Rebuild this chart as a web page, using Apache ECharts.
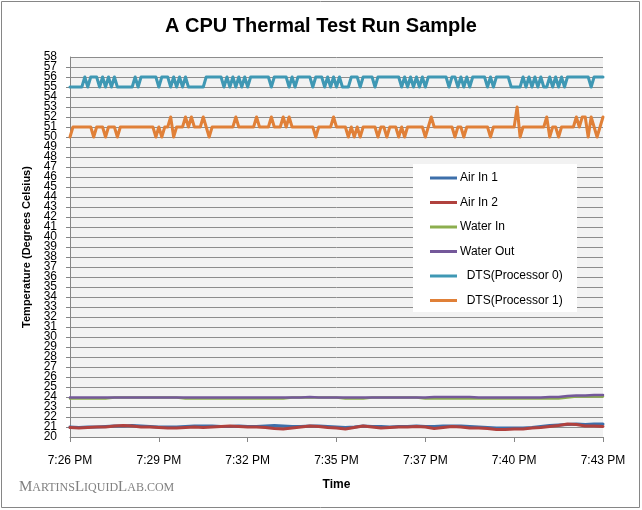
<!DOCTYPE html>
<html>
<head>
<meta charset="utf-8">
<script src="https://cdn.jsdelivr.net/npm/echarts@6/dist/echarts.min.js"></script>
<style>html,body{margin:0;padding:0;background:#fff}#c{width:642px;height:510px}</style>
</head>
<body>
<div id="c"></div>
<script>
const tickLabels = ['7:26 PM','7:29 PM','7:32 PM','7:35 PM','7:37 PM','7:40 PM','7:43 PM'];
const seriesNames = ['Air In 1','Air In 2','Water In','Water Out','  DTS(Processor 0)','  DTS(Processor 1)'];
const yMin = 20, yMax = 58;

const airIn1 = [21.0,20.95,21.0,21.0,21.05,21.1,21.1,21.15,21.1,21.05,21.0,21.0,21.0,21.05,21.1,21.1,21.1,21.05,21.05,21.1,21.05,21.05,21.1,21.15,21.1,21.05,21.05,21.1,21.1,21.05,21.0,20.95,21.0,21.1,21.05,21.05,21.0,21.05,21.05,21.1,21.05,21.05,21.1,21.1,21.1,21.05,21.0,20.95,20.9,20.9,20.9,20.9,20.95,21.05,21.15,21.2,21.25,21.3,21.25,21.3,21.3];
const airIn2 = [20.95,20.9,20.95,21.0,21.0,21.1,21.15,21.1,21.0,21.0,20.95,20.9,20.9,20.95,21.0,20.95,21.0,21.05,21.1,21.05,21.0,21.0,20.95,20.85,20.8,20.9,21.0,21.1,21.05,20.95,20.9,20.8,20.95,21.1,21.0,20.9,20.95,21.0,21.0,21.05,21.0,20.85,20.95,21.05,21.0,20.9,20.9,20.85,20.75,20.75,20.8,20.8,20.9,20.95,21.05,21.15,21.3,21.25,21.1,21.1,21.05];
const waterIn = [23.85,23.85,23.85,23.85,23.85,23.95,23.95,23.95,23.95,23.95,23.95,23.95,23.95,23.85,23.85,23.85,23.85,23.85,23.85,23.85,23.85,23.85,23.85,23.85,23.85,23.95,23.95,23.95,23.95,23.95,23.95,23.85,23.85,23.85,23.95,23.95,23.95,23.95,23.95,23.95,23.85,23.85,23.85,23.85,23.85,23.85,23.85,23.85,23.85,23.85,23.85,23.85,23.85,23.85,23.85,23.85,23.95,24.05,24.05,24.05,24.05];
const waterOut = [23.95,23.95,23.95,23.95,23.95,23.95,23.95,23.95,23.95,23.95,23.95,23.95,23.95,23.95,23.95,23.95,23.95,23.95,23.95,23.95,23.95,23.95,23.95,23.95,23.95,23.95,23.95,24.0,23.95,23.95,23.95,23.95,23.95,23.95,23.95,23.95,23.95,23.95,23.95,23.95,23.95,24.0,24.0,24.0,24.0,24.0,23.95,23.95,23.95,23.95,23.95,23.95,23.95,23.95,24.0,24.0,24.1,24.15,24.15,24.2,24.2];
const dts0 = [55,55,55,55,55,56,55,56,56,56,
55,56,55,56,55,56,55,55,55,55,
55,55,56,55,56,56,56,56,56,56,
55,56,56,56,55,56,55,56,55,56,
55,55,55,55,55,55,56,56,56,56,
56,56,55,56,55,56,55,56,55,56,
55,56,56,56,56,56,56,56,55,56,
56,56,56,56,55,56,55,56,56,56,
56,56,55,56,56,56,55,56,55,56,
55,56,55,55,55,56,56,56,55,56,
56,56,56,55,56,56,56,56,56,56,
56,56,55,56,55,56,55,56,55,56,
55,56,56,56,56,56,56,56,55,56,
56,55,56,55,56,55,56,56,56,56,
56,55,56,55,56,56,56,56,56,55,
55,55,55,56,55,56,55,56,55,56,
55,55,56,55,56,55,56,55,56,56,
56,56,56,56,56,56,55,56,56,56,
56];
const dts1 = [50,51,51,51,51,51,51,51,50,51,
51,51,50,51,51,51,50,51,51,51,
51,51,51,51,51,51,51,51,51,50,
51,50,51,51,52,50,51,51,51,52,
51,52,51,51,51,52,51,50,51,51,
51,51,51,51,51,51,52,51,51,51,
51,51,51,52,51,51,51,51,52,51,
51,51,52,51,52,51,51,51,51,51,
51,51,51,50,51,51,51,51,51,52,
51,51,51,51,50,51,50,51,50,51,
51,51,51,51,50,51,51,50,51,51,
51,50,51,50,51,51,51,51,51,51,
50,51,52,51,51,51,51,51,51,51,
50,51,51,50,51,51,51,51,51,51,
51,51,50,51,51,51,51,51,51,51,
51,53,50,51,51,51,51,51,51,51,
51,52,50,51,51,50,51,51,51,51,
51,52,51,52,52,50,52,51,50,51,
52];

const colors = ['#3d6faa','#b0413e','#8cae4e','#74589a','#3f98b4','#e08038'];
const widths = [3,3,2.5,2.5,3,3];
const lastX = dts0.length - 1;
const tickStep = lastX / (tickLabels.length - 1);

function toPairs(arr){
  const step = lastX / (arr.length - 1);
  return arr.map((v,i)=>[i*step, v]);
}
const allData = [airIn1, airIn2, waterIn, waterOut, dts0, dts1];
const yLabelFont = {fontFamily:'Liberation Sans', fontSize:12, color:'#000'};

const chart = echarts.init(document.getElementById('c'), null, {renderer:'canvas'});
chart.setOption({
  backgroundColor:'#ffffff',
  animation:false,
  title:{
    text:'A CPU Thermal Test Run Sample',
    left:'center', top:11,
    textStyle:{fontFamily:'Liberation Sans', fontSize:20, fontWeight:'bold', color:'#000'}
  },
  graphic:[
    {type:'rect', z:-10, shape:{x:1.5,y:1.5,width:638,height:506}, style:{fill:'none', stroke:'#868686', lineWidth:1}},
    {type:'rect', z:5, shape:{x:413,y:164,width:164,height:148}, style:{fill:'#ffffff', stroke:'none'}},
    {type:'text', left:19, top:480, z:5,
      style:{
        rich:{
          b:{fontFamily:'Liberation Serif', fontSize:15, fill:'#808080'},
          s:{fontFamily:'Liberation Serif', fontSize:12, fill:'#808080'}
        },
        text:'{b|M}{s|ARTINS}{b|L}{s|IQUID}{b|L}{s|AB.COM}'
      }
    }
  ],
  legend:{
    orient:'vertical', left:425, top:166, z:10,
    icon:'rect', itemWidth:27, itemHeight:3, itemGap:10.5,
    selectedMode:false,
    textStyle:{fontFamily:'Liberation Sans', fontSize:12, color:'#000', lineHeight:14, padding:[0,0,0,-2]},
    data:seriesNames
  },
  grid:{left:70, right:39, top:57, bottom:73, show:true, backgroundColor:'#f2f2f2', borderWidth:0},
  xAxis:{
    type:'value', min:0, max:lastX, interval:tickStep,
    name:'Time', nameLocation:'middle', nameGap:42,
    nameTextStyle:{fontFamily:'Liberation Sans', fontSize:12, fontWeight:'bold', color:'#000'},
    axisLine:{show:true, lineStyle:{color:'#868686', width:1}},
    axisTick:{show:true, length:5, lineStyle:{color:'#868686'}},
    splitLine:{show:false},
    axisLabel:{margin:18, fontFamily:'Liberation Sans', fontSize:12, color:'#000',
      formatter:(v)=>tickLabels[Math.round(v/tickStep)] || ''}
  },
  yAxis:[{
    type:'value', min:yMin, max:yMax, interval:1, position:'left',
    name:'Temperature (Degrees Celsius)', nameLocation:'middle', nameGap:37,
    nameTextStyle:{fontFamily:'Liberation Sans', fontSize:11, fontWeight:'bold', color:'#000'},
    axisLine:{show:true, lineStyle:{color:'#868686', width:1}},
    axisTick:{show:true, length:4, lineStyle:{color:'#868686'}},
    splitLine:{show:true, lineStyle:{color:'#8c8c8c', width:1}},
    axisLabel:Object.assign({margin:13, showMinLabel:false, showMaxLabel:false, interval:0}, yLabelFont)
  },{
    type:'value', min:yMin, max:yMax, interval:yMax-yMin, position:'left', offset:0,
    axisLine:{show:false}, axisTick:{show:false}, splitLine:{show:false},
    axisLabel:Object.assign({margin:13, showMinLabel:true, showMaxLabel:true,
      formatter:(v)=>(v===yMin||v===yMax)?String(v):''}, yLabelFont)
  }],
  series: seriesNames.map((n,k)=>({
    name:n, type:'line', symbol:'none', showSymbol:false, yAxisIndex:0,
    data: toPairs(allData[k]),
    lineStyle:{color:colors[k], width:widths[k], join:'round', cap:'round'},
    itemStyle:{color:colors[k]},
    z:2+k
  }))
});
</script>
</body>
</html>
